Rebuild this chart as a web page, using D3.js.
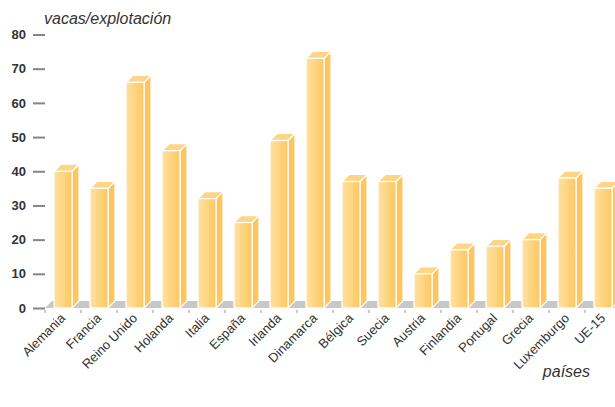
<!DOCTYPE html>
<html><head><meta charset="utf-8">
<script src="https://cdn.jsdelivr.net/npm/d3@7"></script>
<style>body{margin:0;background:#fff}svg{display:block}</style>
</head><body>
<svg id="c" width="615" height="407"></svg>
<script>
const categories = ["Alemania","Francia","Reino Unido","Holanda","Italia","España","Irlanda","Dinamarca","Bélgica","Suecia","Austria","Finlandia","Portugal","Grecia","Luxemburgo","UE-15"];
const values = [40,35,66,46,32,25,49,73,37,37,10,17,18,20,38,35];
const yTicks = [0,10,20,30,40,50,60,70,80];
const yTitle = "vacas/explotación";
const xTitle = "países";

const FONT = "Liberation Sans, Arial, sans-serif";
const svg = d3.select("#c");
const x = d3.scaleBand().domain(categories).range([45, 621]).padding(0);
const y = d3.scaleLinear().domain([0, 80]).range([308, 34.5]);
const D = 7;
const bw = x.bandwidth();
const fx0 = bw * 0.25, fw = bw * 0.5;

const defs = svg.append("defs");
const g = defs.append("linearGradient").attr("id","front").attr("x1","0").attr("x2","1").attr("y1","0").attr("y2","0");
g.append("stop").attr("offset","0").attr("stop-color","#ffe1a2");
g.append("stop").attr("offset","1").attr("stop-color","#fec862");

// floor
const x0 = x.range()[0], x1 = x.range()[1];
svg.append("polygon")
  .attr("points", [[x0,y(0)],[x0+D,y(0)-D],[x1+D,y(0)-D],[x1,y(0)]].map(p=>p.join(",")).join(" "))
  .attr("fill","#c8c8c8");

// y axis
const ya = svg.append("g").attr("transform","translate(45,0)")
  .call(d3.axisLeft(y).tickValues(yTicks).tickSize(12).tickPadding(7));
ya.select(".domain").remove();
ya.selectAll(".tick line").attr("stroke","#858585").attr("stroke-width",2);
ya.selectAll(".tick text").attr("fill","#333").attr("font-family",FONT).attr("font-size",13).attr("font-weight","bold");

// x small ticks
svg.append("g").selectAll("line").data(categories).join("line")
  .attr("x1", d=>x(d)).attr("x2", d=>x(d)).attr("y1", y(0)+2).attr("y2", y(0)+5)
  .attr("stroke","#999").attr("stroke-width",1);

// bars
const bars = svg.append("g").selectAll("g").data(categories).join("g");
bars.each(function(c, i){
  const gg = d3.select(this);
  const l = x(c) + fx0, r = l + fw, t = y(values[i]), b = y(0);
  gg.append("polygon").attr("points", [[r,b],[r+D,b-D],[r+D,t-D],[r,t]].map(p=>p.join(",")).join(" "))
    .attr("fill","#fec55e").attr("stroke","#fff").attr("stroke-width",1.2).attr("stroke-linejoin","round");
  gg.append("polygon").attr("points", [[l,t],[l+D,t-D],[r+D,t-D],[r,t]].map(p=>p.join(",")).join(" "))
    .attr("fill","#fed586").attr("stroke","#fff").attr("stroke-width",1.2).attr("stroke-linejoin","round");
  gg.append("rect").attr("x", l).attr("y", t).attr("width", fw).attr("height", b - t)
    .attr("fill","url(#front)").attr("stroke","#fff").attr("stroke-width",1.2);
});

// x labels
svg.append("g").selectAll("text").data(categories).join("text")
  .attr("transform", d => `translate(${x(d)+bw/2+3},${y(0)+11}) rotate(-45)`)
  .attr("text-anchor","end")
  .attr("font-family",FONT).attr("font-size",13).attr("fill","#333")
  .text(d=>d);

// titles
svg.append("text").attr("x",44).attr("y",24).attr("font-family",FONT)
  .attr("font-size",16).attr("font-style","italic").attr("fill","#333").text(yTitle);
svg.append("text").attr("x",590).attr("y",377).attr("text-anchor","end").attr("font-family",FONT)
  .attr("font-size",16).attr("font-style","italic").attr("fill","#333").text(xTitle);
</script>
</body></html>
